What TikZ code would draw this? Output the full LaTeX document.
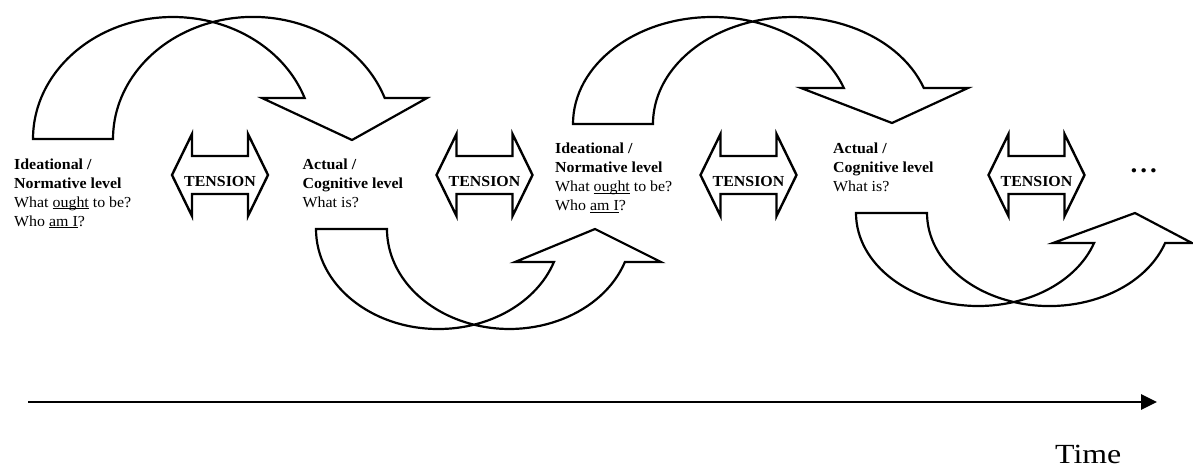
\documentclass[tikz,border=0pt]{standalone}
\usepackage{fontspec}
\setmainfont{Liberation Serif}[FakeStretch=1.04]
\newfontfamily\timefont{Liberation Serif}[FakeStretch=1.15]
\usetikzlibrary{arrows.meta}
\newlength\ulwd
\newcommand\myul[1]{\settowidth{\ulwd}{#1}\rlap{\rule[-2pt]{\ulwd}{0.9pt}}#1}
\tikzset{
  bandline/.style={line width=2.2pt, line join=miter},
  tensline/.style={line width=2.4pt, line join=miter},
  tenstext/.style={anchor=base, inner sep=0pt, font=\fontsize{15.3}{18}\selectfont\bfseries},
  txt/.style={anchor=base west, inner sep=0pt, font=\fontsize{15.3}{19}\selectfont},
  btxt/.style={txt, font=\fontsize{15.3}{19}\selectfont\bfseries},
}
\newcommand\TensArrow[2]{%
  \draw[tensline] (#2-48,175) -- (#2-28,134) -- (#2-28,156) -- (#2+28,156) -- (#2+28,134) -- (#2+48,175) -- (#2+28,216) -- (#2+28,194) -- (#2-28,194) -- (#2-28,216) -- cycle;
  \node[tenstext] (#1) at (#2,186.5) {TENSION};}
\begin{document}
\begin{tikzpicture}[x=1pt,y=-1pt]
\useasboundingbox (0,0) rectangle (1193,467);
% top curved arrows
\draw[bandline] (33,139) arc[start angle=180,end angle=19.6,x radius=139.9pt,y radius=122pt] -- (262,98) -- (352,140) -- (427,98) -- (384.7,98) arc[start angle=19.6,end angle=180,x radius=139.9pt,y radius=122pt] -- cycle;
\draw[bandline] (573,124) arc[start angle=180,end angle=19.7,x radius=139.5pt,y radius=107pt] -- (801,88) -- (892,123) -- (968,88) -- (923.8,88) arc[start angle=19.7,end angle=180,x radius=139.5pt,y radius=107pt] -- cycle;
% bottom curved arrows
\draw[bandline] (316,229) arc[start angle=180,end angle=340.7,x radius=122.4pt,y radius=100pt] -- (515,262) -- (595,229) -- (661,262) -- (624.9,262) arc[start angle=340.7,end angle=180,x radius=122.4pt,y radius=100pt] -- cycle;
\draw[bandline] (856,213) arc[start angle=180,end angle=341.2,x radius=122.3pt,y radius=93pt] -- (1053,243) -- (1135,213) -- (1192,243) -- (1165.1,243) arc[start angle=341.2,end angle=180,x radius=122.3pt,y radius=93pt] -- cycle;
% tension arrows
\TensArrow{tA}{220}
\TensArrow{tB}{484.5}
\TensArrow{tC}{748.5}
\TensArrow{tD}{1036.5}
% text blocks
\node[btxt] (l1a) at (14,169) {Ideational /};
\node[btxt] (l1b) at (14,188) {Normative level};
\node[txt] (l1c) at (14,207) {What \myul{ought} to be?};
\node[txt] (l1d) at (14,226) {Who \myul{am I}?};
\node[btxt] (l2a) at (302.5,169) {Actual /};
\node[btxt] (l2b) at (302.5,188) {Cognitive level};
\node[txt] (l2c) at (302.5,207) {What is?};
\node[btxt] (l3a) at (555,153.5) {Ideational /};
\node[btxt] (l3b) at (555,172.5) {Normative level};
\node[txt] (l3c) at (555,191.5) {What \myul{ought} to be?};
\node[txt] (l3d) at (555,210.5) {Who \myul{am I}?};
\node[btxt] (l4a) at (833,153.5) {Actual /};
\node[btxt] (l4b) at (833,172.5) {Cognitive level};
\node[txt] (l4c) at (833,191.5) {What is?};
\node[anchor=base west, inner sep=0pt, font=\fontsize{26}{28}\selectfont\bfseries] (dots) at (1130.5,172.8) {.\hspace{3pt}.\hspace{3pt}.};
% time axis
\coordinate (ts) at (28,402);
\coordinate (te) at (1157,402);
\draw[line width=2.8pt, -{Triangle[length=16pt,width=15pt]}] (ts) -- (te);
\node[anchor=base west, inner sep=0pt, font=\timefont\fontsize{27.7}{30}\selectfont] (time) at (1055,463) {Time};
\end{tikzpicture}
\end{document}
